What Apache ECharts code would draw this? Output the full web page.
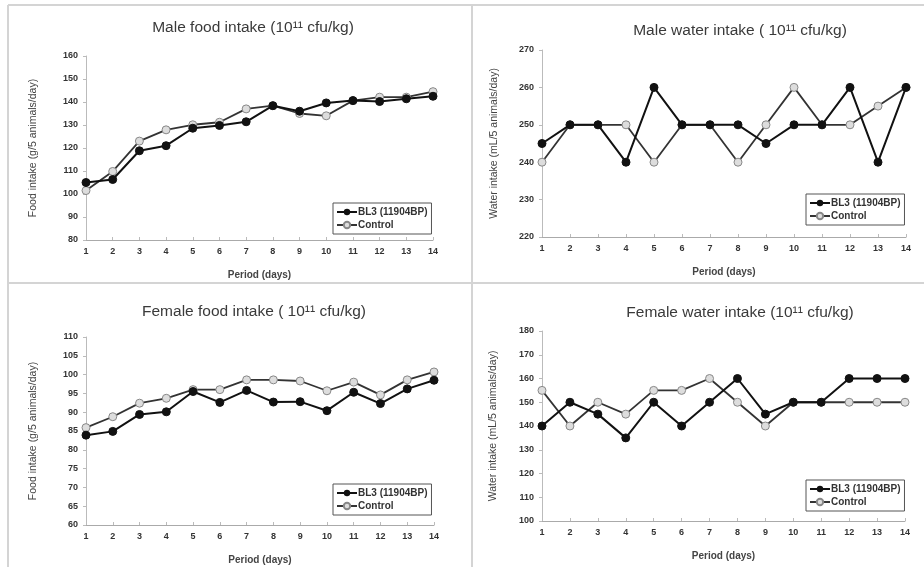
<!DOCTYPE html>
<html>
<head>
<meta charset="utf-8">
<script src="https://cdn.jsdelivr.net/npm/echarts@6/dist/echarts.min.js"></script>
<style>
html,body{margin:0;padding:0;background:#fff;}
#c{width:924px;height:567px;}
</style>
</head>
<body>
<div id="c"></div>
<script>
var days = ['1','2','3','4','5','6','7','8','9','10','11','12','13','14'];
var seriesNames = ['BL3 (11904BP)', 'Control'];

var maleFoodBL3 = [105, 106.3, 118.8, 121, 128.6, 129.8, 131.4, 138.4, 136, 139.6, 140.6, 140.2, 141.4, 142.5];
var maleFoodCtrl = [101.5, 109.8, 123, 127.9, 130.1, 131.2, 137, 138.4, 135, 134, 140.6, 142.1, 142.1, 144.5];

var maleWaterBL3 = [245, 250, 250, 240, 260, 250, 250, 250, 245, 250, 250, 260, 240, 260];
var maleWaterCtrl = [240, 250, 250, 250, 240, 250, 250, 240, 250, 260, 250, 250, 255, 260];

var femaleFoodBL3 = [83.9, 84.9, 89.4, 90.1, 95.5, 92.6, 95.8, 92.7, 92.8, 90.4, 95.3, 92.3, 96.2, 98.5];
var femaleFoodCtrl = [85.9, 88.8, 92.4, 93.7, 96, 96, 98.6, 98.6, 98.3, 95.7, 98, 94.6, 98.6, 100.7];

var femaleWaterBL3 = [140, 150, 145, 135, 150, 140, 150, 160, 145, 150, 150, 160, 160, 160];
var femaleWaterCtrl = [155, 140, 150, 145, 155, 155, 160, 150, 140, 150, 150, 150, 150, 150];

var titles = [
  'Male food intake (10\u00B9\u00B9 cfu/kg)',
  'Male water intake ( 10\u00B9\u00B9 cfu/kg)',
  'Female food intake ( 10\u00B9\u00B9 cfu/kg)',
  'Female water intake (10\u00B9\u00B9 cfu/kg)'
];
var yNames = [
  'Food intake (g/5 animals/day)',
  'Water intake (mL/5 animals/day)',
  'Food intake (g/5 animals/day)',
  'Water intake (mL/5 animals/day)'
];
var xName = 'Period (days)';
var yMin = [80, 220, 60, 100];
var yMax = [160, 270, 110, 180];
var yInterval = [10, 10, 5, 10];

var panelData = [
  [maleFoodBL3, maleFoodCtrl],
  [maleWaterBL3, maleWaterCtrl],
  [femaleFoodBL3, femaleFoodCtrl],
  [femaleWaterBL3, femaleWaterCtrl]
];

// layout
var grids = [
  {left: 86, top: 56, width: 347, height: 184},
  {left: 542, top: 50, width: 364, height: 187},
  {left: 86, top: 337, width: 348, height: 188},
  {left: 542, top: 331, width: 363, height: 190}
];
var titlePos = [[248, 15], [735, 18], [249, 299], [735, 300]];
var legendPos = [[333, 203], [806, 194], [333, 484], [806, 480]];
var yNameGap = [47, 42, 47, 43];

var FONT = 'Liberation Sans, Arial, sans-serif';
var chart = echarts.init(document.getElementById('c'), null, {renderer: 'canvas'});

var option = {
  backgroundColor: '#fff',
  animation: false,
  title: [], grid: [], xAxis: [], yAxis: [], legend: [], series: [],
  graphic: [
    {type: 'line', shape: {x1: 8, y1: 5, x2: 924, y2: 5}, style: {stroke: '#d4d4d4', lineWidth: 2}},
    {type: 'line', shape: {x1: 8, y1: 5, x2: 8, y2: 567}, style: {stroke: '#d4d4d4', lineWidth: 2}},
    {type: 'line', shape: {x1: 472, y1: 5, x2: 472, y2: 567}, style: {stroke: '#d4d4d4', lineWidth: 2}},
    {type: 'line', shape: {x1: 8, y1: 283, x2: 924, y2: 283}, style: {stroke: '#d4d4d4', lineWidth: 2}}
  ]
};

for (var i = 0; i < 4; i++) {
  option.title.push({
    text: titles[i],
    left: titlePos[i][0], top: titlePos[i][1],
    textAlign: 'center',
    textStyle: {fontFamily: FONT, fontSize: 15.5, fontWeight: 'normal', color: '#3a3a3a'}
  });
  option.grid.push(grids[i]);
  option.xAxis.push({
    gridIndex: i, type: 'category', data: days, boundaryGap: false,
    name: xName, nameLocation: 'middle', nameGap: 30,
    nameTextStyle: {fontFamily: FONT, fontSize: 10, fontWeight: 'bold', color: '#444'},
    axisLine: {lineStyle: {color: '#aaa', width: 1}},
    axisTick: {show: true, inside: true, length: 3, lineStyle: {color: '#bbb'}},
    axisLabel: {fontFamily: FONT, fontSize: 9, fontWeight: 'bold', color: '#333', margin: 7},
    splitLine: {show: false}
  });
  option.yAxis.push({
    gridIndex: i, type: 'value', min: yMin[i], max: yMax[i], interval: yInterval[i],
    name: yNames[i], nameLocation: 'middle', nameGap: yNameGap[i], nameRotate: 90,
    nameTextStyle: {fontFamily: FONT, fontSize: 10.5, color: '#444'},
    axisLine: {show: true, lineStyle: {color: '#bbb', width: 1}},
    axisTick: {show: true, length: 3, lineStyle: {color: '#bbb'}},
    axisLabel: {fontFamily: FONT, fontSize: 9, fontWeight: 'bold', color: '#333', margin: 8},
    splitLine: {show: false}
  });
  var lp = legendPos[i];
  option.legend.push({
    left: lp[0], top: lp[1],
    orient: 'vertical', itemGap: 3, itemWidth: 20, itemHeight: 8,
    padding: [4, 4, 4, 3],
    borderColor: '#555', borderWidth: 1,
    textStyle: {fontFamily: FONT, fontSize: 10, fontWeight: 'bold', color: '#333', padding: [0, 0, 0, -4]},
    data: [
      {name: seriesNames[0]},
      {name: seriesNames[1]}
    ]
  });
  option.series.push({
    name: seriesNames[0], type: 'line', xAxisIndex: i, yAxisIndex: i,
    data: panelData[i][0],
    symbol: 'circle', symbolSize: 8,
    lineStyle: {color: '#111', width: 2},
    itemStyle: {color: '#111', borderColor: '#111'},
    z: 3
  });
  option.series.push({
    name: seriesNames[1], type: 'line', xAxisIndex: i, yAxisIndex: i,
    data: panelData[i][1],
    symbol: 'circle', symbolSize: 8,
    lineStyle: {color: '#333', width: 1.8},
    itemStyle: {color: '#ddd', borderColor: '#888', borderWidth: 1},
    z: 2
  });
}
chart.setOption(option);
</script>
</body>
</html>
